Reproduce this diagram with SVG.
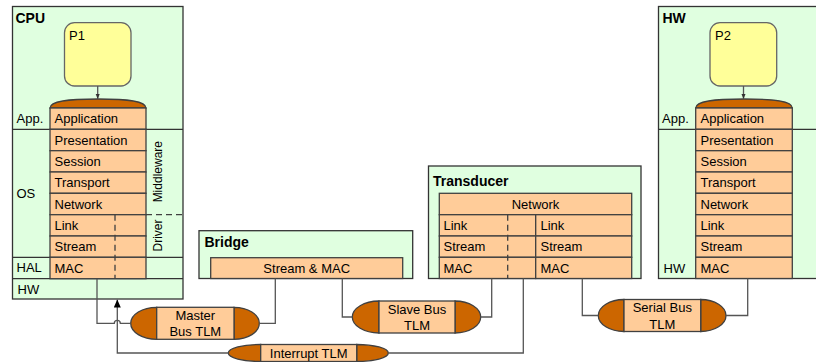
<svg xmlns="http://www.w3.org/2000/svg" width="816" height="362" viewBox="0 0 816 362">
  <style>
    .box { fill: #E0FFE0; stroke: #333; stroke-width: 1.3; }
    .layer { fill: #FFCC99; stroke: #404040; stroke-width: 1.3; }
    .dark { fill: #CC6600; stroke: #404040; stroke-width: 1.3; }
    .proc { fill: #FFFF99; stroke: #666; stroke-width: 1.3; }
    .line { fill: none; stroke: #333; stroke-width: 1.3; }
    .dash { fill: none; stroke: #404040; stroke-width: 1.3; stroke-dasharray: 6 4; }
    .wire { fill: none; stroke: #555; stroke-width: 1.3; }
    text { font-family: "Liberation Sans", Arial, sans-serif; font-size: 13px; fill: #000; }
    .title { font-weight: bold; font-size: 14px; }
    .mid { text-anchor: middle; }
    .side { font-size: 12px; text-anchor: middle; }
  </style>
  <defs>
    <marker id="arrow" markerUnits="userSpaceOnUse" markerWidth="8" markerHeight="10" refX="8" refY="3.5" orient="auto">
      <path d="M0,0 L8,3.5 L0,7 Z" fill="#000"/>
    </marker>
    <marker id="tip" markerUnits="userSpaceOnUse" markerWidth="5" markerHeight="5" refX="5" refY="2" orient="auto">
      <path d="M0,0 L5,2 L0,4 Z" fill="#333"/>
    </marker>
  </defs>

  <!-- CPU node -->
  <g id="cpu">
    <rect class="box" x="12.5" y="6.5" width="170.5" height="292.5"/>
    <text class="title" x="15.5" y="22.5">CPU</text>
    <line class="line" x1="12.5" y1="129.3" x2="183" y2="129.3"/>
    <line class="line" x1="12.5" y1="257.3" x2="183" y2="257.3"/>
    <line class="line" x1="12.5" y1="278.7" x2="183" y2="278.7"/>
    <text x="16.5" y="123">App.</text>
    <text x="16.5" y="198">OS</text>
    <text x="16.5" y="272">HAL</text>
    <text x="17.5" y="294">HW</text>
    <!-- middleware / driver column -->
    <line class="dash" x1="146" y1="214.7" x2="183" y2="214.7"/>
    <text class="side" transform="translate(161.5,171.7) rotate(-90)">Middleware</text>
    <text class="side" transform="translate(161.5,235.5) rotate(-90)">Driver</text>
  </g>

  <g id="p1">
    <rect class="proc" x="64.5" y="22.7" width="66.5" height="63.3" rx="10" ry="10"/>
    <text x="69" y="40">P1</text>
  </g>

  <g id="cpu-stack">
    <path class="dark" d="M50,108 C50,101 68,99 98,99 C128,99 146,101 146,108 Z"/>
    <rect class="layer" x="50" y="108" width="96" height="21.3"/>
    <rect class="layer" x="50" y="129.3" width="96" height="21.4"/>
    <rect class="layer" x="50" y="150.7" width="96" height="21.3"/>
    <rect class="layer" x="50" y="172" width="96" height="21.3"/>
    <rect class="layer" x="50" y="193.3" width="96" height="21.4"/>
    <rect class="layer" x="50" y="214.7" width="96" height="21.3"/>
    <rect class="layer" x="50" y="236" width="96" height="21.3"/>
    <rect class="layer" x="50" y="257.3" width="96" height="21.4"/>
    <line class="dash" x1="115" y1="214.7" x2="115" y2="278.7"/>
    <text x="54.5" y="123.3">Application</text>
    <text x="54.5" y="144.6">Presentation</text>
    <text x="54.5" y="166">Session</text>
    <text x="54.5" y="187.3">Transport</text>
    <text x="54.5" y="208.6">Network</text>
    <text x="54.5" y="230">Link</text>
    <text x="54.5" y="251.3">Stream</text>
    <text x="54.5" y="272.6">MAC</text>
  </g>

  <!-- Bridge node -->
  <g id="bridge">
    <rect class="box" x="199" y="230.7" width="213.7" height="47.8"/>
    <text class="title" x="204.5" y="247">Bridge</text>
    <rect class="layer" x="210.7" y="257.7" width="192" height="20.8"/>
    <text class="mid" x="306.7" y="272.5">Stream &amp; MAC</text>
  </g>

  <!-- Transducer node -->
  <g id="transducer">
    <rect class="box" x="428.5" y="166" width="212.5" height="112.5"/>
    <text class="title" x="433" y="185.5">Transducer</text>
    <rect class="layer" x="439.3" y="193.3" width="192.4" height="21.4"/>
    <rect class="layer" x="439.3" y="214.7" width="96.4" height="21.3"/>
    <rect class="layer" x="439.3" y="236" width="96.4" height="21.3"/>
    <rect class="layer" x="439.3" y="257.3" width="96.4" height="21.2"/>
    <rect class="layer" x="535.7" y="214.7" width="96" height="21.3"/>
    <rect class="layer" x="535.7" y="236" width="96" height="21.3"/>
    <rect class="layer" x="535.7" y="257.3" width="96" height="21.2"/>
    <line class="dash" x1="507.7" y1="214.7" x2="507.7" y2="278.5"/>
    <text class="mid" x="535.5" y="208.6">Network</text>
    <text x="443.5" y="230">Link</text>
    <text x="443.5" y="251.3">Stream</text>
    <text x="443.5" y="272.6">MAC</text>
    <text x="540.5" y="230">Link</text>
    <text x="540.5" y="251.3">Stream</text>
    <text x="540.5" y="272.6">MAC</text>
  </g>

  <!-- HW node -->
  <g id="hw">
    <rect class="box" x="658.5" y="6.5" width="170" height="272"/>
    <text class="title" x="662.5" y="22.5">HW</text>
    <line class="line" x1="658.5" y1="129.3" x2="830" y2="129.3"/>
    <text x="662" y="123">App.</text>
    <text x="663.5" y="272.6">HW</text>
  </g>

  <g id="p2">
    <rect class="proc" x="710" y="22.7" width="66.7" height="63.3" rx="10" ry="10"/>
    <text x="715" y="40">P2</text>
  </g>

  <g id="hw-stack">
    <path class="dark" d="M695.7,108 C695.7,101 714,99 744,99 C774,99 792.3,101 792.3,108 Z"/>
    <rect class="layer" x="695.7" y="108" width="96.6" height="21.3"/>
    <rect class="layer" x="695.7" y="129.3" width="96.6" height="21.4"/>
    <rect class="layer" x="695.7" y="150.7" width="96.6" height="21.3"/>
    <rect class="layer" x="695.7" y="172" width="96.6" height="21.3"/>
    <rect class="layer" x="695.7" y="193.3" width="96.6" height="21.4"/>
    <rect class="layer" x="695.7" y="214.7" width="96.6" height="21.3"/>
    <rect class="layer" x="695.7" y="236" width="96.6" height="21.3"/>
    <rect class="layer" x="695.7" y="257.3" width="96.6" height="21.2"/>
    <text x="700.5" y="123.3">Application</text>
    <text x="700.5" y="144.6">Presentation</text>
    <text x="700.5" y="166">Session</text>
    <text x="700.5" y="187.3">Transport</text>
    <text x="700.5" y="208.6">Network</text>
    <text x="700.5" y="230">Link</text>
    <text x="700.5" y="251.3">Stream</text>
    <text x="700.5" y="272.6">MAC</text>
  </g>

  <!-- TLM channels -->
  <g id="master-bus-tlm">
    <path class="dark" d="M156.7,307.3 A26,16 0 0 0 156.7,339.3 Z"/>
    <path class="dark" d="M234,307.3 A25.3,16 0 0 1 234,339.3 Z"/>
    <rect class="layer" x="156.7" y="307.3" width="77.3" height="32"/>
    <text class="mid" x="195.3" y="319.5">Master</text>
    <text class="mid" x="195.3" y="336">Bus TLM</text>
  </g>

  <g id="slave-bus-tlm">
    <path class="dark" d="M379,301 A26.7,16 0 0 0 379,333 Z"/>
    <path class="dark" d="M455,301 A25.7,16 0 0 1 455,333 Z"/>
    <rect class="layer" x="379" y="301" width="76" height="32"/>
    <text class="mid" x="417" y="313.5">Slave Bus</text>
    <text class="mid" x="417" y="330">TLM</text>
  </g>

  <g id="serial-bus-tlm">
    <path class="dark" d="M624,299.5 A25.7,16 0 0 0 624,331.5 Z"/>
    <path class="dark" d="M700.7,299.5 A25.3,16 0 0 1 700.7,331.5 Z"/>
    <rect class="layer" x="624" y="299.5" width="76.7" height="32"/>
    <text class="mid" x="662.3" y="312">Serial Bus</text>
    <text class="mid" x="662.3" y="328.5">TLM</text>
  </g>

  <g id="interrupt-tlm">
    <path class="dark" d="M260.7,344.5 A32.4,8.5 0 0 0 260.7,361.5 Z"/>
    <path class="dark" d="M356.7,344.5 A31.6,8.5 0 0 1 356.7,361.5 Z"/>
    <rect class="layer" x="260.7" y="344.5" width="96" height="17"/>
    <text class="mid" x="308.7" y="357.8">Interrupt TLM</text>
  </g>

  <!-- connectors -->
  <g id="connectors">
    <path class="wire" d="M97.7,86 V99" marker-end="url(#tip)"/>
    <path class="wire" d="M743.5,86 V99" marker-end="url(#tip)"/>
    <path class="wire" d="M97,278.7 V323.3 H114.3 A3,3 0 0 1 120.3,323.3 H130.7"/>
    <path class="wire" d="M228.3,353 H117.3 V299.5" marker-end="url(#arrow)"/>
    <path class="wire" d="M259.3,323.3 H275.3 V278.5"/>
    <path class="wire" d="M352.3,317 H342.3 V278.5"/>
    <path class="wire" d="M480.7,317 H491.7 V278.5"/>
    <path class="wire" d="M388.3,353 H523.3 V278.5"/>
    <path class="wire" d="M598.3,315.5 H582.3 V278.5"/>
    <path class="wire" d="M726,315.5 H747.7 V278.5"/>
  </g>
</svg>
